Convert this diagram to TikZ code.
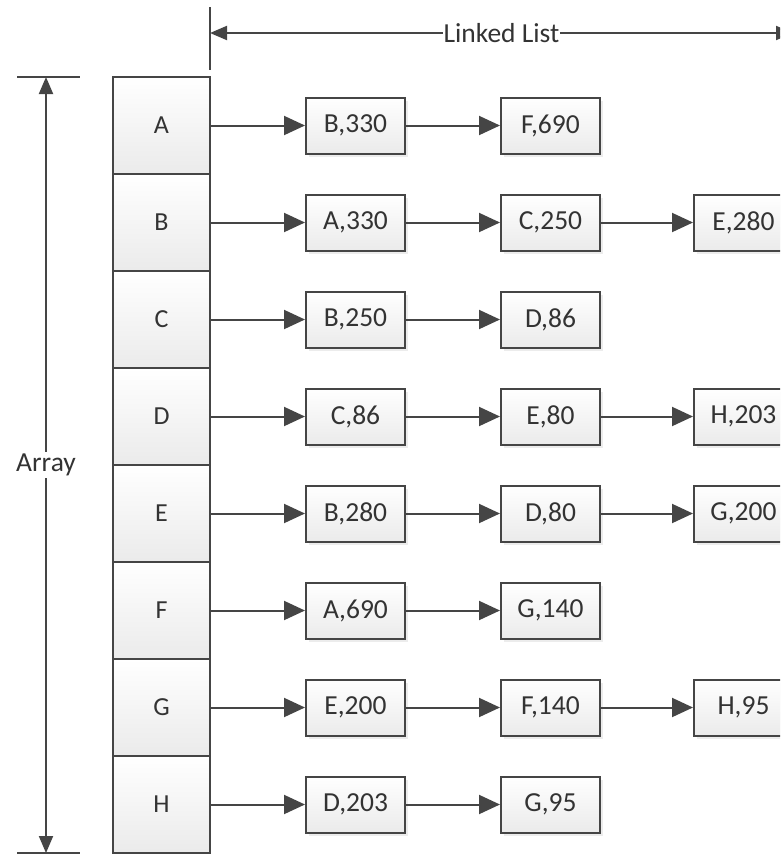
\documentclass[tikz,border=0pt]{standalone}
\usepackage{fontspec}
\setmainfont{Carlito}
\usetikzlibrary{arrows.meta,shadows}
\definecolor{ln}{HTML}{454545}
\definecolor{tx}{HTML}{333333}
\tikzset{
  cell/.style={draw=ln,line width=2pt,top color=white,bottom color=black!8,
    minimum width=97pt,minimum height=97pt,inner sep=0pt,text=tx,font=\fontsize{26}{30}\selectfont},
  lbox/.style={draw=ln,line width=2pt,top color=white,bottom color=black!8,
    drop shadow={shadow xshift=3pt,shadow yshift=-3pt,opacity=0.15},
    minimum width=99pt,minimum height=56pt,inner sep=0pt,text=tx,font=\fontsize{27.5}{30}\selectfont},
  link/.style={draw=ln,line width=2pt,-{Triangle[length=21pt,width=19pt]}},
  dim/.style={draw=ln,line width=2pt,{Triangle[length=17pt,width=14pt]}-{Triangle[length=17pt,width=14pt]}},
  tick/.style={draw=ln,line width=2pt},
  dimlabel/.style={fill=white,inner sep=1pt,text=tx,font=\fontsize{27.5}{30}\selectfont}
}
\begin{document}
\begin{tikzpicture}[x=1pt,y=-1pt]
\useasboundingbox (0,0) rectangle (780,855);
\clip (0,0) rectangle (780,855);
% array cells
\foreach \n [count=\i from 0] in {A,B,C,D,E,F,G,H}{
  \node[cell] (c\n) at (161.5,{125.5+97*\i}) {\n};
}
% list boxes, column x = 355.5, 550.5, 743.5
\node[lbox] (A1) at (355.5,125.5) {B,330};
\node[lbox] (A2) at (550.5,125.5) {F,690};
\node[lbox] (B1) at (355.5,222.5) {A,330};
\node[lbox] (B2) at (550.5,222.5) {C,250};
\node[lbox] (B3) at (743.5,222.5) {E,280};
\node[lbox] (C1) at (355.5,319.5) {B,250};
\node[lbox] (C2) at (550.5,319.5) {D,86};
\node[lbox] (D1) at (355.5,416.5) {C,86};
\node[lbox] (D2) at (550.5,416.5) {E,80};
\node[lbox] (D3) at (743.5,416.5) {H,203};
\node[lbox] (E1) at (355.5,513.5) {B,280};
\node[lbox] (E2) at (550.5,513.5) {D,80};
\node[lbox] (E3) at (743.5,513.5) {G,200};
\node[lbox] (F1) at (355.5,610.5) {A,690};
\node[lbox] (F2) at (550.5,610.5) {G,140};
\node[lbox] (G1) at (355.5,707.5) {E,200};
\node[lbox] (G2) at (550.5,707.5) {F,140};
\node[lbox] (G3) at (743.5,707.5) {H,95};
\node[lbox] (H1) at (355.5,804.5) {D,203};
\node[lbox] (H2) at (550.5,804.5) {G,95};
% connectors
\foreach \r in {A,B,C,D,E,F,G,H}{
  \draw[link] (c\r.east) -- (\r1.west);
  \draw[link] (\r1.east) -- (\r2.west);
}
\foreach \r in {B,D,E,G}{
  \draw[link] (\r2.east) -- (\r3.west);
}
% dimension: Linked List
\coordinate (lt1) at (210,7);
\coordinate (lt2) at (210,70);
\coordinate (rt1) at (793,7);
\coordinate (rt2) at (793,70);
\coordinate (la) at (210,33);
\coordinate (lb) at (793,33);
\draw[tick] (lt1) -- (lt2);
\draw[tick] (rt1) -- (rt2);
\draw[dim] (la) -- (lb) node[dimlabel,midway] (ll) {Linked List};
% dimension: Array
\coordinate (at1) at (17,77);
\coordinate (at2) at (80,77);
\coordinate (ab1) at (17,853);
\coordinate (ab2) at (80,853);
\coordinate (aa) at (46,77);
\coordinate (ab) at (46,853);
\draw[tick] (at1) -- (at2);
\draw[tick] (ab1) -- (ab2);
\draw[dim] (aa) -- (ab) node[dimlabel,midway,inner sep=2pt] (al) {Array};
\end{tikzpicture}
\end{document}
